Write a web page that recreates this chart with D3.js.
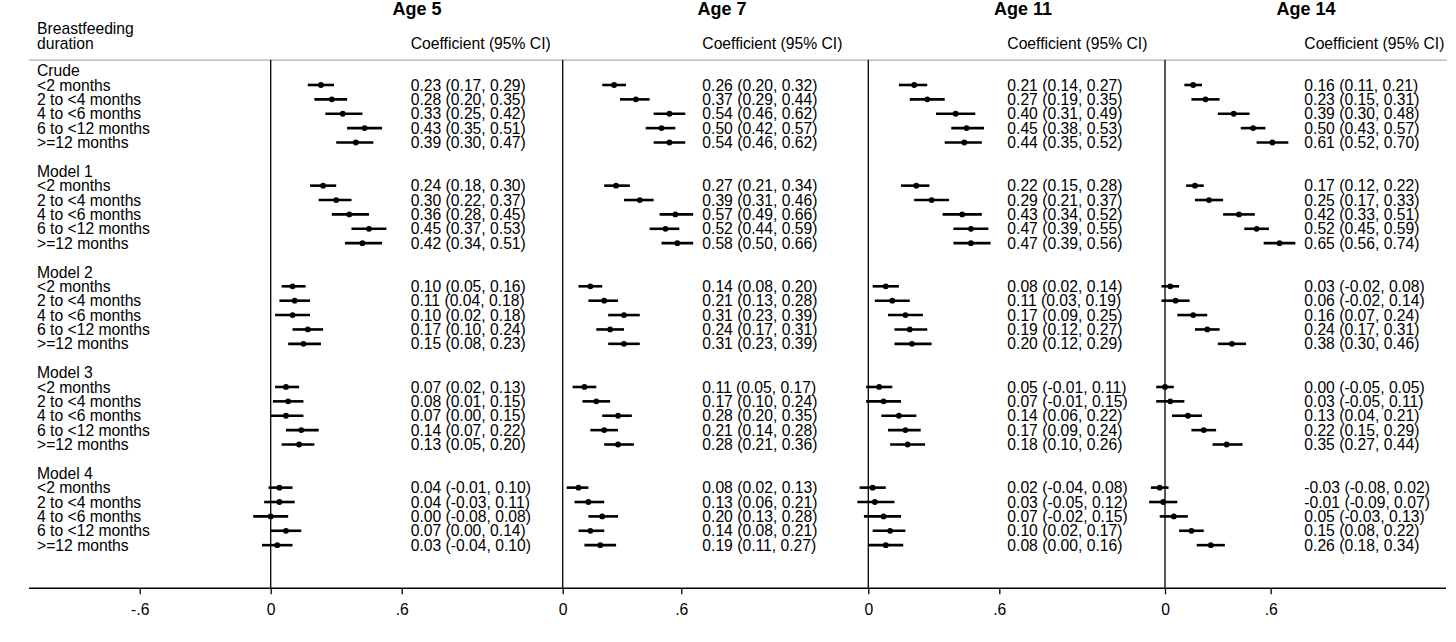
<!DOCTYPE html>
<html>
<head>
<meta charset="utf-8">
<script src="https://cdn.jsdelivr.net/npm/d3@7"></script>
<style>
  body { margin: 0; background: #fff; }
  svg { display: block; font-family: "Liberation Sans", Arial, sans-serif; }
</style>
</head>
<body>
<svg id="chart" width="1456" height="642"></svg>
<script>
// categories
const ages = ['Age 5', 'Age 7', 'Age 11', 'Age 14']
const groups = ['Crude', 'Model 1', 'Model 2', 'Model 3', 'Model 4']
const durations = ['<2 months', '2 to <4 months', '4 to <6 months', '6 to <12 months', '>=12 months']

// coefficients and 95% CI, 5 groups x 5 durations per age
const age5Coef = [0.23, 0.28, 0.33, 0.43, 0.39, 0.24, 0.30, 0.36, 0.45, 0.42, 0.10, 0.11, 0.10, 0.17, 0.15, 0.07, 0.08, 0.07, 0.14, 0.13, 0.04, 0.04, 0.00, 0.07, 0.03]
const age5Low = [0.17, 0.20, 0.25, 0.35, 0.30, 0.18, 0.22, 0.28, 0.37, 0.34, 0.05, 0.04, 0.02, 0.10, 0.08, 0.02, 0.01, 0.00, 0.07, 0.05, -0.01, -0.03, -0.08, 0.00, -0.04]
const age5High = [0.29, 0.35, 0.42, 0.51, 0.47, 0.30, 0.37, 0.45, 0.53, 0.51, 0.16, 0.18, 0.18, 0.24, 0.23, 0.13, 0.15, 0.15, 0.22, 0.20, 0.10, 0.11, 0.08, 0.14, 0.10]

const age7Coef = [0.26, 0.37, 0.54, 0.50, 0.54, 0.27, 0.39, 0.57, 0.52, 0.58, 0.14, 0.21, 0.31, 0.24, 0.31, 0.11, 0.17, 0.28, 0.21, 0.28, 0.08, 0.13, 0.20, 0.14, 0.19]
const age7Low = [0.20, 0.29, 0.46, 0.42, 0.46, 0.21, 0.31, 0.49, 0.44, 0.50, 0.08, 0.13, 0.23, 0.17, 0.23, 0.05, 0.10, 0.20, 0.14, 0.21, 0.02, 0.06, 0.13, 0.08, 0.11]
const age7High = [0.32, 0.44, 0.62, 0.57, 0.62, 0.34, 0.46, 0.66, 0.59, 0.66, 0.20, 0.28, 0.39, 0.31, 0.39, 0.17, 0.24, 0.35, 0.28, 0.36, 0.13, 0.21, 0.28, 0.21, 0.27]

const age11Coef = [0.21, 0.27, 0.40, 0.45, 0.44, 0.22, 0.29, 0.43, 0.47, 0.47, 0.08, 0.11, 0.17, 0.19, 0.20, 0.05, 0.07, 0.14, 0.17, 0.18, 0.02, 0.03, 0.07, 0.10, 0.08]
const age11Low = [0.14, 0.19, 0.31, 0.38, 0.35, 0.15, 0.21, 0.34, 0.39, 0.39, 0.02, 0.03, 0.09, 0.12, 0.12, -0.01, -0.01, 0.06, 0.09, 0.10, -0.04, -0.05, -0.02, 0.02, 0.00]
const age11High = [0.27, 0.35, 0.49, 0.53, 0.52, 0.28, 0.37, 0.52, 0.55, 0.56, 0.14, 0.19, 0.25, 0.27, 0.29, 0.11, 0.15, 0.22, 0.24, 0.26, 0.08, 0.12, 0.15, 0.17, 0.16]

const age14Coef = [0.16, 0.23, 0.39, 0.50, 0.61, 0.17, 0.25, 0.42, 0.52, 0.65, 0.03, 0.06, 0.16, 0.24, 0.38, 0.00, 0.03, 0.13, 0.22, 0.35, -0.03, -0.01, 0.05, 0.15, 0.26]
const age14Low = [0.11, 0.15, 0.30, 0.43, 0.52, 0.12, 0.17, 0.33, 0.45, 0.56, -0.02, -0.02, 0.07, 0.17, 0.30, -0.05, -0.05, 0.04, 0.15, 0.27, -0.08, -0.09, -0.03, 0.08, 0.18]
const age14High = [0.21, 0.31, 0.48, 0.57, 0.70, 0.22, 0.33, 0.51, 0.59, 0.74, 0.08, 0.14, 0.24, 0.31, 0.46, 0.05, 0.11, 0.21, 0.29, 0.44, 0.02, 0.07, 0.13, 0.22, 0.34]

// tick values per panel
const axisTicks = [[-0.6, 0, 0.6], [0, 0.6], [0, 0.6], [0, 0.6]]

// layout
const W = 1456, H = 642
const fontSize = 15.7
const zeroX = [270.7, 562.7, 868.3, 1165]
const sixX = [401.7, 681.3, 999.3, 1270.7]
const textX = [410.7, 702.3, 1007.3, 1304.3]
const titleX = [417, 722, 1023, 1306]
const left = 29, right = 1446, labelX = 37

const panels = [
  { coef: age5Coef, low: age5Low, high: age5High },
  { coef: age7Coef, low: age7Low, high: age7High },
  { coef: age11Coef, low: age11Low, high: age11High },
  { coef: age14Coef, low: age14Low, high: age14High },
]

// one row per line of text: group header, 5 durations, blank
const yScale = d3.scaleLinear().domain([0, 36]).range([70.6, 588.3])
const rowOf = (g, d) => g * 7 + 1 + d
const fmt = (v) => v.toFixed(2)
const tickFmt = (v) => (v === 0 ? '0' : v.toFixed(1).replace('0.', '.'))

const svg = d3.select('#chart')
svg.append('rect').attr('width', W).attr('height', H).attr('fill', '#fff')

// header
svg
  .append('line')
  .attr('x1', left)
  .attr('x2', right + 1)
  .attr('y1', yScale(-0.73))
  .attr('y2', yScale(-0.73))
  .attr('stroke', '#c4c4c4')
  .attr('stroke-width', 1.6)

svg
  .append('text')
  .attr('x', labelX)
  .attr('y', 34)
  .attr('font-size', fontSize)
  .text('Breastfeeding')
svg
  .append('text')
  .attr('x', labelX)
  .attr('y', 48.5)
  .attr('font-size', fontSize)
  .text('duration')

// row labels
const labelRows = []
groups.forEach((g, gi) => {
  labelRows.push({ row: gi * 7, text: g })
  durations.forEach((d, di) => labelRows.push({ row: rowOf(gi, di), text: d }))
})
svg
  .append('g')
  .attr('font-size', fontSize)
  .selectAll('text')
  .data(labelRows)
  .join('text')
  .attr('x', labelX)
  .attr('y', (r) => yScale(r.row) + 5.6)
  .text((r) => r.text)

// bottom axis line
svg
  .append('line')
  .attr('x1', left)
  .attr('x2', right)
  .attr('y1', yScale(36))
  .attr('y2', yScale(36))
  .attr('stroke', '#000')
  .attr('stroke-width', 1.5)

panels.forEach((p, i) => {
  const xScale = d3.scaleLinear().domain([0, 0.6]).range([zeroX[i], sixX[i]])
  const g = svg.append('g')

  // title and column heading
  g.append('text')
    .attr('x', titleX[i])
    .attr('y', 15)
    .attr('text-anchor', 'middle')
    .attr('font-size', 18)
    .attr('font-weight', 'bold')
    .text(ages[i])
  g.append('text')
    .attr('x', textX[i])
    .attr('y', 48.5)
    .attr('font-size', fontSize)
    .text('Coefficient (95% CI)')

  // zero reference line
  g.append('line')
    .attr('x1', xScale(0))
    .attr('x2', xScale(0))
    .attr('y1', yScale(-0.73))
    .attr('y2', yScale(36))
    .attr('stroke', '#000')
    .attr('stroke-width', 1.3)

  // axis
  const axis = g
    .append('g')
    .attr('transform', `translate(0,${yScale(36)})`)
    .call(
      d3
        .axisBottom(xScale)
        .tickValues(axisTicks[i])
        .tickFormat(tickFmt)
        .tickSize(6)
        .tickPadding(10)
    )
  axis.select('.domain').remove()
  axis.selectAll('.tick line').attr('stroke', '#000').attr('stroke-width', 1.3)
  axis
    .selectAll('.tick text')
    .attr('fill', '#000')
    .attr('font-size', fontSize)
    .attr('font-family', '"Liberation Sans", Arial, sans-serif')

  const rows = p.coef.map((c, k) => ({
    row: rowOf(Math.floor(k / 5), k % 5),
    coef: c,
    low: p.low[k],
    high: p.high[k],
  }))

  // confidence intervals
  g.append('g')
    .attr('stroke', '#000')
    .attr('stroke-width', 2.6)
    .selectAll('line')
    .data(rows)
    .join('line')
    .attr('x1', (r) => xScale(r.low))
    .attr('x2', (r) => xScale(r.high))
    .attr('y1', (r) => yScale(r.row))
    .attr('y2', (r) => yScale(r.row))

  // point estimates
  g.append('g')
    .attr('fill', '#000')
    .selectAll('circle')
    .data(rows)
    .join('circle')
    .attr('cx', (r) => xScale(r.coef))
    .attr('cy', (r) => yScale(r.row))
    .attr('r', 2.9)

  // text column
  g.append('g')
    .attr('font-size', fontSize)
    .selectAll('text')
    .data(rows)
    .join('text')
    .attr('x', textX[i])
    .attr('y', (r) => yScale(r.row) + 5.6)
    .text((r) => `${fmt(r.coef)} (${fmt(r.low)}, ${fmt(r.high)})`)
})
</script>
</body>
</html>
